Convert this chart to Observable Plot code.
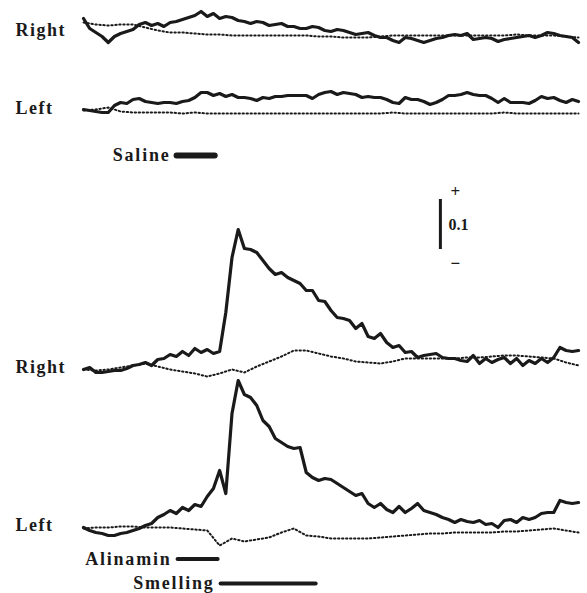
<!DOCTYPE html>
<html><head><meta charset="utf-8">
<script src="https://cdn.jsdelivr.net/npm/d3@7"></script>
<script src="https://cdn.jsdelivr.net/npm/@observablehq/plot@0.6"></script>
<style>
html,body{margin:0;padding:0;background:#fff;}
#chart svg{display:block;}
#chart text{letter-spacing:1.5px;}
</style></head><body><div id="chart"></div>
<script>
// ---- data (signal units; scale bar = 0.1) ----
const panels = ["Saline Right", "Saline Left", "Alinamin Right", "Alinamin Left"];
const sideLabels = ["Right", "Left", "Right", "Left"];

const salineRightSolid = [0.034,0.014,0.006,-0.002,-0.014,-0.002,0.004,0.008,0.012,0.022,
0.026,0.020,0.024,0.018,0.026,0.028,0.032,0.036,0.040,0.048,
0.038,0.044,0.034,0.038,0.036,0.030,0.028,0.024,0.028,0.026,
0.020,0.022,0.024,0.018,0.018,0.014,0.014,0.018,0.016,0.010,
0.008,0.012,0.010,0.006,0.002,0.004,0.006,0.000,-0.004,-0.004,
-0.010,-0.014,-0.004,-0.006,-0.010,-0.014,-0.010,-0.006,-0.004,0.000,
0.002,0.000,0.004,-0.008,-0.006,-0.004,-0.006,-0.012,-0.008,-0.006,
-0.004,-0.002,0.000,-0.004,0.000,0.006,0.004,0.000,-0.002,-0.004,
-0.014];
const salineRightDotted = [0.026,0.022,0.020,0.022,0.022,0.016,0.010,0.006,0.006,0.004,
0.002,0.002,0.000,0.000,0.000,0.000,0.000,0.000,0.000,-0.002,
-0.002,-0.004,-0.004,-0.004,-0.002,0.000,0.000,0.000,0.000,0.000,
0.000,0.000,0.000,0.000,0.000,0.002,0.000,0.000,0.000,-0.002,
-0.004];
const salineLeftSolid = [0.002,0.000,-0.002,-0.004,-0.004,0.010,0.016,0.014,0.022,0.024,
0.018,0.016,0.014,0.016,0.016,0.014,0.018,0.020,0.026,0.036,
0.036,0.030,0.034,0.028,0.032,0.026,0.026,0.024,0.020,0.026,
0.024,0.028,0.028,0.030,0.030,0.030,0.030,0.024,0.032,0.036,
0.038,0.032,0.036,0.034,0.032,0.026,0.028,0.026,0.026,0.022,
0.016,0.014,0.026,0.022,0.022,0.018,0.012,0.016,0.022,0.030,
0.030,0.032,0.036,0.032,0.030,0.030,0.024,0.016,0.024,0.016,
0.016,0.016,0.014,0.020,0.028,0.024,0.026,0.020,0.016,0.022,
0.018];
const salineLeftDotted = [0.000,0.002,0.006,-0.002,-0.004,-0.004,-0.004,-0.004,-0.006,-0.004,
-0.006,-0.006,-0.006,-0.006,-0.006,-0.006,-0.006,-0.006,-0.006,-0.006,
-0.006,-0.006,-0.006,-0.006,-0.006,-0.004,-0.006,-0.006,-0.006,-0.006,
-0.006,-0.006,-0.006,-0.006,-0.004,-0.006,-0.006,-0.006,-0.006,-0.006,
-0.006];
const alinaminRightSolid = [-0.002,0.002,-0.008,-0.008,-0.006,-0.004,-0.004,0.000,0.006,0.008,
0.012,0.006,0.018,0.020,0.028,0.024,0.034,0.026,0.040,0.032,
0.038,0.030,0.034,0.112,0.222,0.278,0.240,0.238,0.232,0.216,
0.200,0.188,0.192,0.182,0.176,0.170,0.156,0.156,0.136,0.134,
0.116,0.102,0.100,0.096,0.080,0.090,0.064,0.060,0.070,0.052,
0.042,0.046,0.032,0.034,0.022,0.026,0.028,0.030,0.022,0.020,
0.020,0.016,0.014,0.026,0.010,0.020,0.012,0.018,0.022,0.010,
0.020,0.006,0.016,0.010,0.020,0.012,0.022,0.042,0.036,0.034,
0.036];
const alinaminRightDotted = [-0.002,-0.004,-0.002,0.002,0.006,0.010,0.004,-0.002,-0.006,-0.010,
-0.016,-0.010,-0.002,-0.008,0.004,0.014,0.024,0.036,0.036,0.030,
0.024,0.020,0.014,0.012,0.010,0.014,0.020,0.020,0.020,0.020,
0.020,0.022,0.022,0.024,0.026,0.026,0.024,0.022,0.020,0.012,
0.006];
const alinaminLeftSolid = [0.002,-0.004,-0.008,-0.010,-0.014,-0.014,-0.010,-0.008,-0.004,0.000,
0.006,0.010,0.022,0.028,0.036,0.030,0.042,0.036,0.048,0.044,
0.064,0.080,0.116,0.070,0.230,0.296,0.268,0.262,0.246,0.216,
0.204,0.180,0.172,0.164,0.160,0.162,0.112,0.102,0.096,0.100,
0.098,0.090,0.082,0.074,0.066,0.070,0.050,0.042,0.050,0.038,
0.032,0.044,0.032,0.040,0.050,0.036,0.032,0.028,0.022,0.018,
0.012,0.018,0.014,0.012,0.016,0.008,0.010,0.002,0.016,0.018,
0.012,0.022,0.018,0.022,0.030,0.032,0.032,0.056,0.052,0.050,
0.052];
const alinaminLeftDotted = [0.000,0.002,0.002,0.004,0.004,0.002,0.002,0.002,0.000,-0.002,
-0.004,-0.034,-0.020,-0.026,-0.022,-0.018,-0.008,0.000,-0.014,-0.016,
-0.020,-0.020,-0.020,-0.020,-0.018,-0.016,-0.014,-0.012,-0.010,-0.010,
-0.008,-0.008,-0.008,-0.008,-0.006,-0.006,-0.004,-0.002,0.000,-0.004,
-0.008];

// stimulus periods (time units, record spans 0..100)
const stimLabels = ["Saline", "Alinamin", "Smelling"];
const stimStart = [18.8, 19.0, 27.7];
const stimEnd = [26.5, 27.1, 46.9];
const scaleBarValue = 0.1;
const scaleBarLabels = ["+", "0.1", "\u2212"];

// ---- layout (not data) ----
const W = 587, H = 593;
const panelBase = {"Saline Right": 1.116, "Saline Left": 0.966, "Alinamin Right": 0.45, "Alinamin Left": 0.13};
const labelLift = {"Saline Right": 0.010, "Saline Left": 0.004, "Alinamin Right": 0.002, "Alinamin Left": 0.006};
const stimRowY = [0.876, 0.069, 0.020];
const stimWidth = [6, 4, 4];
const scaleBarT = 72.1, scaleBarBottom = 0.688;

const traces = [
  [panels[0], "solid", salineRightSolid], [panels[0], "dotted", salineRightDotted],
  [panels[1], "solid", salineLeftSolid], [panels[1], "dotted", salineLeftDotted],
  [panels[2], "solid", alinaminRightSolid], [panels[2], "dotted", alinaminRightDotted],
  [panels[3], "solid", alinaminLeftSolid], [panels[3], "dotted", alinaminLeftDotted]
];
const rows = traces.flatMap(([panel, kind, vals]) =>
  vals.map((v, i) => ({panel, kind, key: panel + kind, t: i * 100 / (vals.length - 1), v: panelBase[panel] + v})));
const solidRows = rows.filter(d => d.kind === "solid");
const dottedRows = rows.filter(d => d.kind === "dotted");
const labelRows = panels.map((p, i) => ({text: sideLabels[i], y: panelBase[p] + labelLift[p]}));
const stimRows = stimLabels.map((s, i) => ({label: s, start: stimStart[i], end: stimEnd[i], y: stimRowY[i], w: stimWidth[i]}));
const scaleRow = [{t: scaleBarT, y1: scaleBarBottom, y2: scaleBarBottom + scaleBarValue}];

const font = "Liberation Serif, Times New Roman, serif";
const ink = "#1a1a1a";

const chart = Plot.plot({
  width: W, height: H,
  margin: 0,
  x: {domain: [0, 100], range: [83, 578], axis: null},
  y: {domain: [0, 1.186], range: [H, 0], axis: null},
  marks: [
    Plot.line(dottedRows, {x: "t", y: "v", z: "key", stroke: ink, strokeWidth: 2, strokeDasharray: "1.4,2.6"}),
    Plot.line(solidRows, {x: "t", y: "v", z: "key", stroke: ink, strokeWidth: 3.2, strokeLinejoin: "round"}),
    Plot.text(labelRows, {y: "y", text: "text", frameAnchor: "left", dx: 15, textAnchor: "start",
      fontFamily: font, fontWeight: "bold", fontSize: 18, fill: ink}),
    Plot.link(stimRows.filter(d => d.w === 6), {x1: "start", x2: "end", y1: "y", y2: "y", stroke: ink, strokeWidth: 6, strokeLinecap: "round"}),
    Plot.link(stimRows.filter(d => d.w === 4), {x1: "start", x2: "end", y1: "y", y2: "y", stroke: ink, strokeWidth: 4, strokeLinecap: "round"}),
    Plot.text(stimRows, {x: "start", y: "y", text: "label", textAnchor: "end", dx: -6,
      fontFamily: font, fontWeight: "bold", fontSize: 18, fill: ink}),
    Plot.ruleX(scaleRow, {x: "t", y1: "y1", y2: "y2", stroke: ink, strokeWidth: 3}),
    Plot.text(scaleRow, {x: "t", y: "y2", text: () => scaleBarLabels[0], dx: 15, dy: -8, fontFamily: font, fontWeight: "bold", fontSize: 17, fill: ink}),
    Plot.text(scaleRow, {x: "t", y: d => (d.y1 + d.y2) / 2, text: () => scaleBarLabels[1], dx: 8, textAnchor: "start", fontFamily: font, fontWeight: "bold", fontSize: 16, fill: ink}),
    Plot.text(scaleRow, {x: "t", y: "y1", text: () => scaleBarLabels[2], dx: 15, dy: 14, fontFamily: font, fontWeight: "bold", fontSize: 17, fill: ink})
  ]
});
d3.select(chart).selectAll("text")
  .filter(function() { return stimLabels.includes(this.textContent); })
  .style("letter-spacing", "1.8px");
d3.select(chart).selectAll("text")
  .filter(function() { return scaleBarLabels.includes(this.textContent); })
  .style("letter-spacing", "0px");
document.getElementById("chart").appendChild(chart);
</script>
</body></html>
